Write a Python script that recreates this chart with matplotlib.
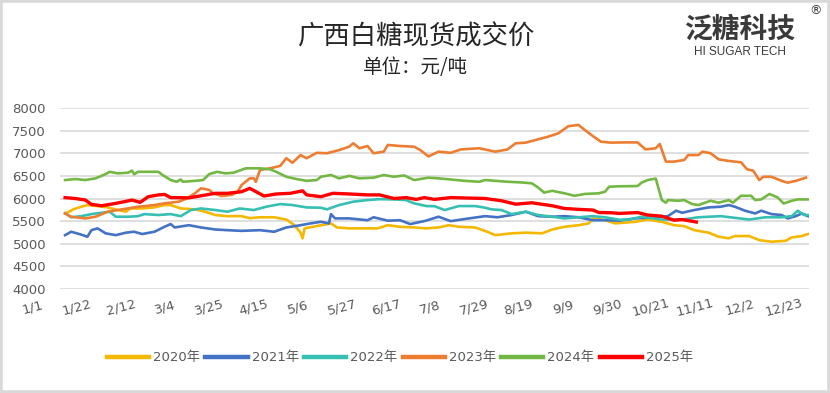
import matplotlib
matplotlib.use("Agg")
import matplotlib.pyplot as plt
from matplotlib.patches import Rectangle
import numpy as np

plt.rcParams['font.family'] = ['DejaVu Sans', 'Noto Sans CJK SC']

# ---------------- data (day of year, price) ----------------
series_names = ["2020年", "2021年", "2022年", "2023年", "2024年", "2025年"]
series_colors = ["#F5B800", "#4472C4", "#36BFB3", "#ED7D31", "#72B843", "#FF0000"]

days_2020 = [0, 2, 4, 8, 11, 16, 21, 26, 30, 32, 38, 44, 49, 52, 57, 64, 69, 74, 80, 87, 91, 96, 103, 109,
             113, 116, 117, 118, 124, 131, 134, 140, 149, 154, 159, 165, 172, 178, 184, 189, 194, 202, 208,
             212, 220, 227, 235, 240, 246, 253, 258, 260, 266, 271, 281, 287, 294, 300, 305, 310, 317, 322,
             327, 330, 337, 342, 348, 355, 358, 363, 366]
vals_2020 = [5671, 5708, 5760, 5818, 5855, 5833, 5803, 5745, 5708, 5780, 5780, 5803, 5855, 5855, 5780, 5760,
             5708, 5635, 5610, 5610, 5565, 5585, 5585, 5535, 5410, 5245, 5120, 5340, 5390, 5450, 5360, 5340,
             5340, 5340, 5410, 5375, 5360, 5340, 5360, 5410, 5375, 5360, 5265, 5190, 5230, 5245, 5230, 5315,
             5375, 5410, 5450, 5560, 5520, 5450, 5485, 5535, 5485, 5410, 5390, 5300, 5245, 5155, 5120, 5170,
             5170, 5080, 5045, 5065, 5140, 5170, 5215]

days_2021 = [0, 3, 7, 11, 13, 16, 20, 25, 30, 34, 38, 44, 49, 52, 54, 61, 67, 74, 80, 87, 96, 103, 109, 116,
             121, 126, 130, 131, 133, 140, 149, 152, 159, 165, 170, 177, 184, 190, 199, 207, 213, 220, 227,
             233, 240, 246, 253, 260, 266, 273, 281, 291, 297, 301, 304, 310, 317, 323, 327, 330, 335, 340,
             343, 348, 353, 356, 360, 363, 366]
vals_2021 = [5190, 5265, 5215, 5155, 5300, 5340, 5230, 5190, 5245, 5265, 5215, 5265, 5375, 5435, 5360, 5410,
             5360, 5315, 5300, 5285, 5300, 5265, 5360, 5410, 5450, 5485, 5450, 5655, 5560, 5560, 5520, 5585,
             5510, 5520, 5435, 5500, 5597, 5500, 5560, 5610, 5585, 5635, 5708, 5610, 5597, 5610, 5585, 5520,
             5520, 5510, 5560, 5585, 5610, 5730, 5685, 5745, 5803, 5818, 5855, 5818, 5730, 5670, 5730, 5655,
             5635, 5560, 5610, 5670, 5610]

days_2022 = [0, 3, 8, 13, 18, 22, 25, 31, 36, 39, 46, 52, 57, 62, 67, 74, 80, 86, 93, 99, 106, 112, 119, 126,
             129, 135, 142, 149, 155, 162, 168, 172, 178, 182, 187, 194, 202, 207, 210, 215, 220, 227, 233,
             240, 246, 253, 260, 266, 273, 278, 284, 294, 304, 312, 323, 337, 345, 353, 358, 361, 364, 366]
vals_2022 = [5671, 5585, 5610, 5655, 5685, 5708, 5597, 5597, 5610, 5655, 5635, 5655, 5610, 5745, 5780, 5745,
             5708, 5780, 5745, 5818, 5877, 5855, 5803, 5796, 5760, 5855, 5930, 5965, 5985, 5980, 5965, 5892,
             5833, 5830, 5745, 5833, 5833, 5796, 5760, 5745, 5655, 5708, 5635, 5597, 5560, 5585, 5610, 5585,
             5530, 5535, 5597, 5535, 5535, 5585, 5610, 5535, 5585, 5585, 5610, 5730, 5635, 5635]

days_2023 = [0, 3, 10, 15, 21, 28, 36, 44, 49, 56, 60, 64, 67, 71, 73, 77, 82, 85, 87, 91, 93, 94, 96, 101,
             106, 109, 112, 116, 119, 124, 129, 135, 140, 142, 145, 149, 152, 157, 159, 165, 172, 175, 179,
             184, 190, 195, 204, 212, 218, 222, 227, 232, 238, 243, 248, 253, 256, 260, 264, 269, 275, 282,
             286, 291, 293, 296, 300, 305, 307, 312, 314, 318, 322, 327, 333, 336, 339, 342, 344, 348, 353,
             356, 360, 365]
vals_2023 = [5671, 5597, 5560, 5597, 5708, 5760, 5818, 5855, 5892, 5930, 6000, 6115, 6225, 6190, 6115, 6055,
             6080, 6150, 6300, 6445, 6445, 6370, 6630, 6667, 6720, 6890, 6790, 6960, 6890, 7010, 7000, 7070,
             7145, 7220, 7110, 7160, 7000, 7035, 7183, 7160, 7145, 7070, 6930, 7035, 7010, 7085, 7110, 7035,
             7085, 7220, 7235, 7295, 7367, 7440, 7600, 7625, 7515, 7380, 7255, 7235, 7240, 7240, 7085, 7110,
             7205, 6815, 6815, 6850, 6960, 6960, 7035, 7000, 6865, 6830, 6800, 6645, 6615, 6408, 6480, 6480,
             6390, 6350, 6390, 6460]

days_2024 = [0, 5, 10, 15, 20, 22, 26, 31, 33, 34, 36, 46, 48, 52, 55, 57, 58, 64, 68, 71, 75, 79, 83, 89, 96,
             101, 104, 109, 114, 119, 124, 126, 131, 135, 140, 145, 152, 157, 162, 167, 172, 179, 184, 190,
             197, 204, 207, 212, 218, 225, 230, 233, 236, 240, 246, 251, 256, 263, 266, 268, 273, 282, 284,
             287, 291, 294, 296, 297, 302, 305, 309, 312, 318, 322, 327, 329, 333, 338, 340, 343, 347, 351,
             354, 358, 361, 366]
vals_2024 = [6408, 6430, 6408, 6445, 6540, 6590, 6555, 6570, 6615, 6535, 6590, 6590, 6520, 6408, 6370, 6420,
             6370, 6390, 6408, 6540, 6590, 6555, 6570, 6667, 6667, 6645, 6590, 6480, 6430, 6390, 6408, 6480,
             6520, 6445, 6500, 6445, 6460, 6520, 6480, 6510, 6408, 6460, 6445, 6420, 6390, 6370, 6408, 6390,
             6370, 6355, 6335, 6245, 6130, 6170, 6115, 6060, 6100, 6115, 6150, 6260, 6270, 6275, 6350, 6408,
             6440, 5965, 5907, 5965, 5950, 5965, 5877, 5855, 5950, 5907, 5965, 5907, 6060, 6060, 5965, 5980,
             6100, 6025, 5890, 5950, 5980, 5980]

days_2025 = [0, 5, 10, 13, 18, 25, 33, 37, 41, 46, 49, 52, 61, 67, 74, 80, 87, 91, 98, 104, 111, 117, 119,
             126, 132, 140, 149, 155, 162, 168, 173, 177, 182, 190, 207, 215, 222, 230, 240, 246, 253, 260,
             263, 269, 273, 282, 287, 294, 300, 304, 311]
vals_2025 = [6020, 6000, 5965, 5870, 5840, 5892, 5965, 5915, 6040, 6080, 6090, 6020, 6015, 6060, 6115, 6115,
             6150, 6225, 6055, 6100, 6115, 6170, 6080, 6040, 6115, 6100, 6080, 6080, 6000, 6020, 5980, 6020,
             5980, 6020, 6000, 5950, 5875, 5905, 5840, 5780, 5760, 5745, 5690, 5685, 5670, 5690, 5635, 5610,
             5520, 5535, 5480]

tick_days = [0, 21, 42, 63, 84, 105, 126, 147, 168, 189, 210, 231, 252, 273, 294, 315, 336, 357]
tick_labels = ["1/1", "1/22", "2/12", "3/4", "3/25", "4/15", "5/6", "5/27", "6/17", "7/8", "7/29",
               "8/19", "9/9", "9/30", "10/21", "11/11", "12/2", "12/23"]
y_ticks = [4000, 4500, 5000, 5500, 6000, 6500, 7000, 7500, 8000]

all_days = [days_2020, days_2021, days_2022, days_2023, days_2024, days_2025]
all_vals = [vals_2020, vals_2021, vals_2022, vals_2023, vals_2024, vals_2025]

# ---------------- figure ----------------
W, H = 830, 393
fig = plt.figure(figsize=(W / 100, H / 100), dpi=100)
fig.patch.set_facecolor("white")
fig.add_artist(Rectangle((0, 0), 1, 1, transform=fig.transFigure, fill=False,
                         edgecolor="#D9D9D9", linewidth=4))

ax = fig.add_axes([60 / W, 1 - 289 / H, 749 / W, 181 / H])
ax.set_xlim(-2.5, 366.5)
ax.set_ylim(4000, 8000)
for s in ax.spines.values():
    s.set_visible(False)
ax.set_yticks(y_ticks)
ax.set_yticklabels([str(v) for v in y_ticks], fontsize=9.5, color="#595959")
ax.tick_params(axis="y", length=0, pad=10)
ax.grid(axis="y", color="#D9D9D9", linewidth=1.2)
ax.set_axisbelow(True)
ax.set_xticks([])

lines = []
for name, col, d, v in zip(series_names, series_colors, all_days, all_vals):
    lw = 2.4 if name == "2025年" else 1.9
    ln, = ax.plot(d, v, color=col, linewidth=lw, label=name, solid_joinstyle="round")
    lines.append(ln)

# x tick labels (slanted, as in the reference)
for td, lab in zip(tick_days, tick_labels):
    xpos = -16 + td * 1.0365
    ax.text(xpos, -0.1, lab, transform=ax.get_xaxis_transform(), rotation=15,
            ha="center", va="center", fontsize=9.5, color="#595959", clip_on=False)

# legend
leg = fig.legend(lines, series_names, loc="center", bbox_to_anchor=(400 / W, 1 - 358 / H),
                 ncol=6, frameon=False, fontsize=9.5, handlelength=3.2, handletextpad=0.3,
                 columnspacing=0.4,
                 prop={"family": ["DejaVu Sans", "Noto Sans CJK SC"], "size": 9.5})
for t in leg.get_texts():
    t.set_color("#595959")
for lh in leg.get_lines():
    lh.set_linewidth(3.2)

# titles
fig.text(417 / W, 1 - 37 / H, "广西白糖现货成交价", ha="center", va="center", fontsize=19,
         color="#262626", family=["Noto Sans CJK SC"])
fig.text(415 / W, 1 - 67 / H, "单位：元/吨", ha="center", va="center", fontsize=14,
         color="#262626", family=["Noto Sans CJK SC"])

# logo
fig.text(740 / W, 1 - 29 / H, "泛糖科技", ha="center", va="center", fontsize=20,
         color="#3A3A3A", family=["Noto Sans CJK SC"], weight="bold")
fig.text(740 / W, 1 - 52 / H, "HI SUGAR TECH", ha="center", va="center", fontsize=8.5,
         color="#3A3A3A", family=["Liberation Sans"])
fig.text(815 / W, 1 - 11 / H, "®", ha="center", va="center", fontsize=9,
         color="#3A3A3A", family=["DejaVu Sans"])

fig.savefig("out.png", dpi=100)
